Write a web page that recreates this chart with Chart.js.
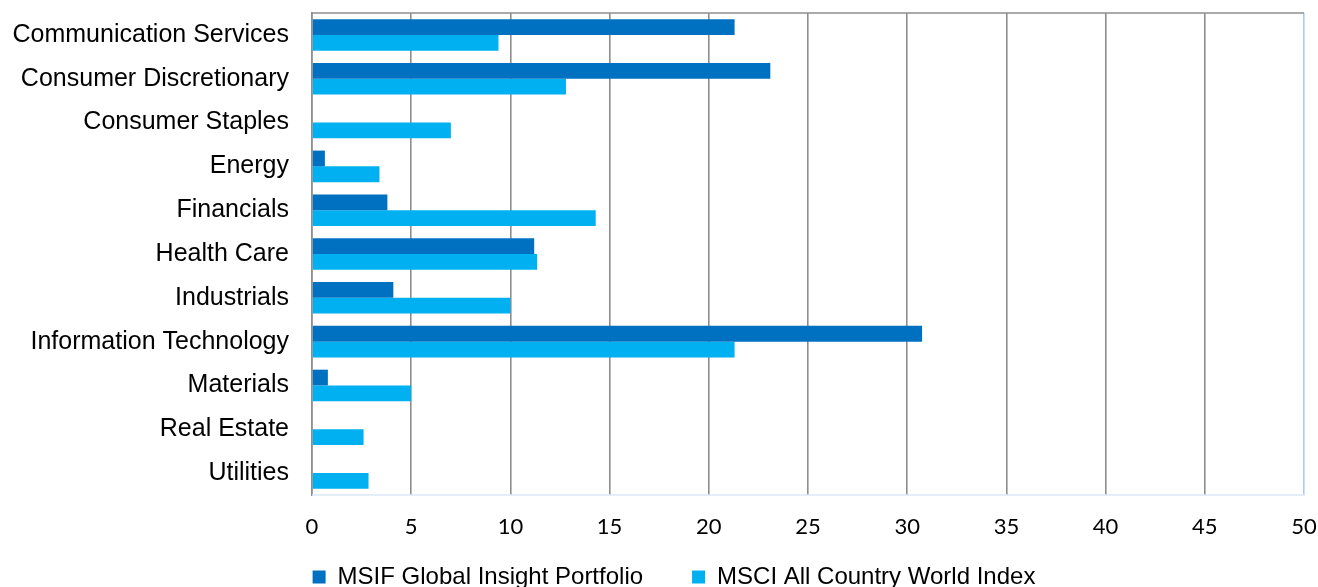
<!DOCTYPE html>
<html>
<head>
<meta charset="utf-8">
<script src="https://cdn.jsdelivr.net/npm/chart.js@4.4.1/dist/chart.umd.min.js"></script>
<style>
  html, body { margin: 0; padding: 0; background: #ffffff; overflow: hidden; }
  #wrap { position: relative; width: 1318px; height: 599px; }
</style>
</head>
<body>
<div id="wrap"><canvas id="c"></canvas></div>
<script>
const categories = [
  "Communication Services",
  "Consumer Discretionary",
  "Consumer Staples",
  "Energy",
  "Financials",
  "Health Care",
  "Industrials",
  "Information Technology",
  "Materials",
  "Real Estate",
  "Utilities"
];
const seriesNames = ["MSIF Global Insight Portfolio", "MSCI All Country World Index"];
const msifValues = [21.3, 23.1, null, 0.65, 3.8, 11.2, 4.1, 30.75, 0.8, null, null];
const msciValues = [9.4, 12.8, 7.0, 3.4, 14.3, 11.35, 10.0, 21.3, 5.0, 2.6, 2.85];
const xTicks = [0, 5, 10, 15, 20, 25, 30, 35, 40, 45, 50];

const GRID = '#8e8e8e';
const EDGE_RIGHT = '#a9cdef';
const EDGE_BOTTOM = '#dbe8f6';
const LEGEND_SHIFT = 22;

const framePlugin = {
  id: 'frame',
  afterLayout(chart) {
    // let x tick labels extend below the (short) axis box instead of being clipped
    chart.scales.x.bottom = chart.height;
    // nudge the legend row to the right, as in the reference
    if (chart.legend) {
      chart.legend.left += LEGEND_SHIFT;
      chart.legend.right += LEGEND_SHIFT;
    }
  },
  beforeDatasetsDraw(chart) {
    const {ctx, chartArea: a} = chart;
    ctx.save();
    ctx.lineWidth = 1.6;
    ctx.strokeStyle = GRID;
    ctx.beginPath();
    ctx.moveTo(a.left - 0.8, a.top);
    ctx.lineTo(a.right, a.top);
    ctx.stroke();
    ctx.strokeStyle = EDGE_BOTTOM;
    ctx.beginPath();
    ctx.moveTo(a.left, a.bottom);
    ctx.lineTo(a.right + 1, a.bottom);
    ctx.stroke();
    ctx.restore();
  }
};

new Chart(document.getElementById('c'), {
  type: 'bar',
  data: {
    labels: categories,
    datasets: [
      { label: seriesNames[0], data: msifValues, backgroundColor: '#0070C0', borderWidth: 0,
        categoryPercentage: 0.72, barPercentage: 1.0 },
      { label: seriesNames[1], data: msciValues, backgroundColor: '#00B0F0', borderWidth: 0,
        categoryPercentage: 0.72, barPercentage: 1.0 }
    ]
  },
  options: {
    indexAxis: 'y',
    responsive: true,
    maintainAspectRatio: false,
    animation: false,
    layout: { padding: { left: 0, right: 14, top: 13, bottom: 0 } },
    scales: {
      x: {
        min: 0, max: 50,
        afterBuildTicks(scale) { scale.ticks = xTicks.map(v => ({ value: v })); },
        afterFit(scale) { scale.height = 21; scale.paddingLeft = 0; scale.paddingRight = 0; },
        grid: {
          color: (c) => c.index === xTicks.length - 1 ? EDGE_RIGHT : GRID,
          lineWidth: 1.6,
          drawTicks: false
        },
        border: { display: false },
        ticks: {
          padding: 19,
          color: '#000000',
          font: { family: 'Lato, "Open Sans", sans-serif', size: 22 }
        }
      },
      y: {
        afterFit(scale) { scale.width = 312; scale.paddingTop = 0; scale.paddingBottom = 0; },
        grid: { display: false, drawTicks: false },
        border: { display: true, color: GRID, width: 1.6 },
        ticks: {
          padding: 23,
          color: '#000000',
          font: { family: '"Liberation Sans", Arial, sans-serif', size: 25 }
        }
      }
    },
    plugins: {
      legend: {
        position: 'bottom',
        labels: {
          boxWidth: 13,
          boxHeight: 13,
          padding: 49,
          color: '#000000',
          font: { family: '"Liberation Sans", Arial, sans-serif', size: 24 }
        }
      },
      tooltip: { enabled: false }
    }
  },
  plugins: [framePlugin]
});
</script>
</body>
</html>
